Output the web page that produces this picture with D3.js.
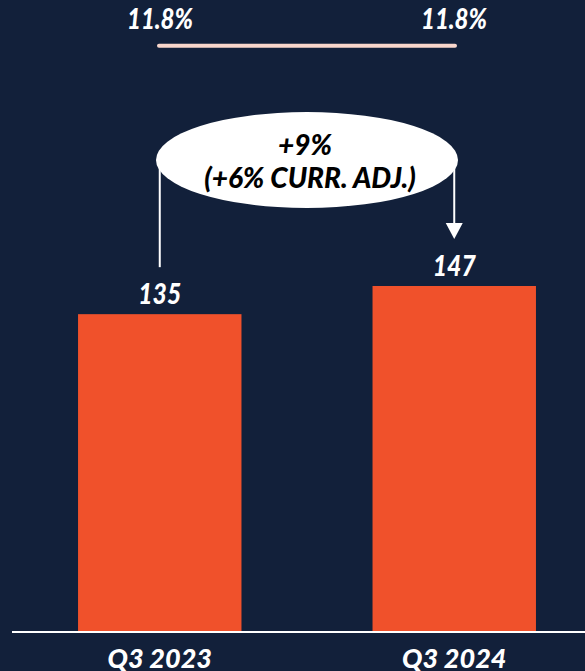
<!DOCTYPE html>
<html><head><meta charset="utf-8">
<script src="https://cdn.jsdelivr.net/npm/d3@7"></script>
<style>
html,body{margin:0;padding:0;background:#12203a;}
svg{display:block;}
text{font-family:Lato,"Open Sans",sans-serif;font-style:italic;font-weight:900;fill:#fff;}
</style></head><body>
<svg id="c" width="585" height="671"></svg>
<script>
const categories = ["Q3 2023", "Q3 2024"];
const values = [135, 147];
const valueLabels = ["135", "147"];
const marginLabels = ["11.8%", "11.8%"];
const growthLabels = ["+9%", "(+6% CURR. ADJ.)"];

const svg = d3.select("#c");
svg.append("rect").attr("width",585).attr("height",671).attr("fill","#12203a");

const x = d3.scaleBand().domain(categories).range([0,614]).paddingInner(0.445).paddingOuter(0.265);
const y = d3.scaleLinear().domain([0, d3.max(values)]).range([631, 286]);

// bars
svg.selectAll("rect.bar").data(values).join("rect").attr("class","bar")
  .attr("x",(d,i)=>x(categories[i])).attr("y",d=>y(d))
  .attr("width",x.bandwidth()).attr("height",d=>y(0)-y(d))
  .attr("fill","#f0512b");

// baseline
svg.append("line").attr("x1",12).attr("x2",585).attr("y1",y(0)+1).attr("y2",y(0)+1)
  .attr("stroke","#ffffff").attr("stroke-width",2.2);

// category labels
svg.selectAll("text.cat").data(categories).join("text").attr("class","cat")
  .attr("x",d=>x(d)+x.bandwidth()/2).attr("y",668)
  .attr("text-anchor","middle").attr("font-size",27).text(d=>d);

// value labels (narrowed digits)
svg.selectAll("text.val").data(values).join("text").attr("class","val")
  .attr("transform",(d,i)=>`translate(${x(categories[i])+x.bandwidth()/2},${y(d)-10}) scale(0.85,1)`)
  .attr("text-anchor","middle").attr("font-size",29).text((d,i)=>valueLabels[i]);

// margin labels at top
const mx = [160, 454];
svg.selectAll("text.m").data(marginLabels).join("text").attr("class","m")
  .attr("transform",(d,i)=>`translate(${mx[i]},28.5) scale(0.86,1)`).attr("text-anchor","middle")
  .attr("font-size",28).text(d=>d);
svg.append("line").attr("x1",159).attr("x2",455).attr("y1",45.8).attr("y2",45.8)
  .attr("stroke","#f9d6cc").attr("stroke-width",4).attr("stroke-linecap","round");

// growth connector
const cx1 = x(categories[0])+x.bandwidth()/2, cx2 = x(categories[1])+x.bandwidth()/2;
svg.append("line").attr("x1",cx1).attr("x2",cx1).attr("y1",165).attr("y2",y(values[0])-47)
  .attr("stroke","#fff").attr("stroke-width",2);
svg.append("line").attr("x1",cx2).attr("x2",cx2).attr("y1",165).attr("y2",226)
  .attr("stroke","#fff").attr("stroke-width",2);
svg.append("path").attr("d",`M${cx2-8.5},223 L${cx2+8.5},223 L${cx2},239 Z`).attr("fill","#fff");

svg.append("ellipse").attr("cx",307).attr("cy",160).attr("rx",151).attr("ry",48).attr("fill","#fff");
svg.append("text").attr("x",305).attr("y",155).attr("text-anchor","middle").attr("font-size",28)
  .style("fill","#000").text(growthLabels[0]);
svg.append("text").attr("x",310).attr("y",188).attr("text-anchor","middle").attr("font-size",28)
  .style("fill","#000").text(growthLabels[1]);
</script></body></html>
